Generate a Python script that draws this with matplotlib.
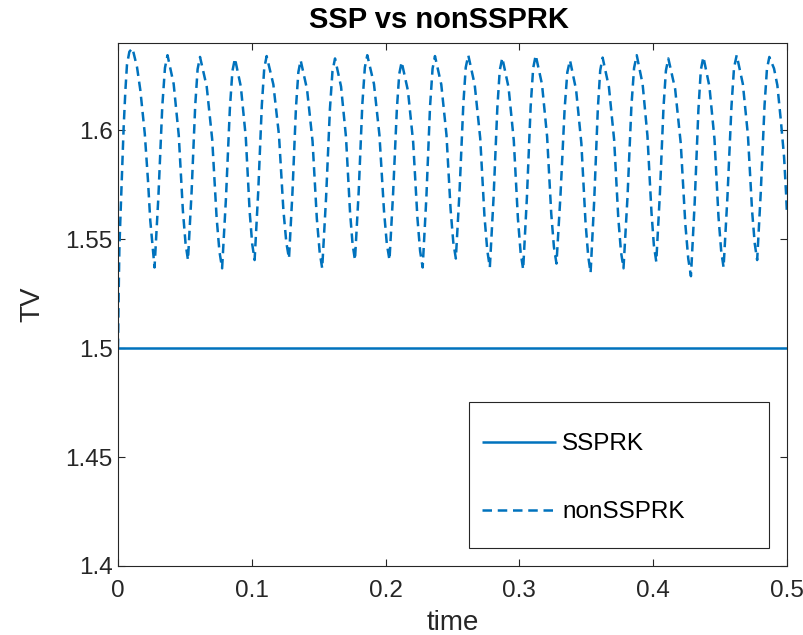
import matplotlib
matplotlib.use("Agg")
import matplotlib.pyplot as plt
from matplotlib.patches import Rectangle

plt.rcParams['font.family'] = ['Liberation Sans', 'DejaVu Sans']

# ---- data ----
t_ssp = [0.0, 0.5]
tv_ssp = [1.5, 1.5]

t_non = [
    0.0, 0.0005, 0.0010, 0.0017, 0.0030, 0.0042, 0.0055, 0.0067, 0.0085, 0.0108,
    0.0142, 0.0167, 0.0200, 0.0224, 0.0241, 0.0273,
    0.0302, 0.0331, 0.0351, 0.0370, 0.0416, 0.0454, 0.0485, 0.0505, 0.0523,
    0.0550, 0.0577, 0.0595, 0.0613, 0.0663, 0.0704, 0.0737, 0.0758, 0.0778,
    0.0807, 0.0836, 0.0855, 0.0874, 0.0918, 0.0955, 0.0984, 0.1003, 0.1021,
    0.1048, 0.1075, 0.1093, 0.1111, 0.1161, 0.1203, 0.1236, 0.1258, 0.1278,
    0.1304, 0.1330, 0.1348, 0.1365, 0.1413, 0.1454, 0.1486, 0.1507, 0.1526,
    0.1555, 0.1584, 0.1603, 0.1622, 0.1667, 0.1704, 0.1734, 0.1753, 0.1771,
    0.1799, 0.1826, 0.1845, 0.1863, 0.1913, 0.1954, 0.1988, 0.2009, 0.2029,
    0.2056, 0.2084, 0.2102, 0.2120, 0.2167, 0.2206, 0.2238, 0.2258, 0.2277,
    0.2305, 0.2332, 0.2351, 0.2369, 0.2416, 0.2455, 0.2486, 0.2506, 0.2525,
    0.2553, 0.2581, 0.2599, 0.2618, 0.2666, 0.2707, 0.2739, 0.2760, 0.2779,
    0.2807, 0.2835, 0.2853, 0.2872, 0.2919, 0.2958, 0.2989, 0.3009, 0.3028,
    0.3056, 0.3084, 0.3103, 0.3122, 0.3169, 0.3207, 0.3238, 0.3258, 0.3277,
    0.3307, 0.3338, 0.3358, 0.3378, 0.3424, 0.3463, 0.3494, 0.3514, 0.3532,
    0.3559, 0.3586, 0.3604, 0.3622, 0.3669, 0.3708, 0.3739, 0.3759, 0.3778,
    0.3808, 0.3837, 0.3857, 0.3877, 0.3921, 0.3957, 0.3987, 0.4005, 0.4023,
    0.4050, 0.4077, 0.4095, 0.4113, 0.4164, 0.4206, 0.4240, 0.4262, 0.4282,
    0.4310, 0.4338, 0.4356, 0.4375, 0.4420, 0.4458, 0.4488, 0.4508, 0.4526,
    0.4555, 0.4585, 0.4604, 0.4624, 0.4670, 0.4708, 0.4739, 0.4759, 0.4777,
    0.4804, 0.4832, 0.4850, 0.4868, 0.4903, 0.4928, 0.4955, 0.4978, 0.4993, 0.5000,
]
tv_non = [
    1.5000, 1.5250, 1.5450, 1.5580, 1.5800, 1.6010, 1.6180, 1.6300, 1.6360, 1.6376,
    1.6290, 1.6183, 1.5985, 1.5770, 1.5587, 1.5370,
    1.5696, 1.6110, 1.6286, 1.6344, 1.6212, 1.5977, 1.5630, 1.5479, 1.5404,
    1.5716, 1.6112, 1.6280, 1.6336, 1.6200, 1.5958, 1.5599, 1.5444, 1.5366,
    1.5689, 1.6098, 1.6271, 1.6329, 1.6200, 1.5968, 1.5626, 1.5478, 1.5404,
    1.5718, 1.6115, 1.6284, 1.6340, 1.6210, 1.5978, 1.5634, 1.5485, 1.5411,
    1.5716, 1.6103, 1.6266, 1.6321, 1.6187, 1.5949, 1.5595, 1.5442, 1.5366,
    1.5689, 1.6098, 1.6271, 1.6329, 1.6200, 1.5968, 1.5626, 1.5478, 1.5404,
    1.5719, 1.6118, 1.6288, 1.6344, 1.6212, 1.5977, 1.5630, 1.5479, 1.5404,
    1.5709, 1.6095, 1.6258, 1.6313, 1.6181, 1.5945, 1.5596, 1.5445, 1.5370,
    1.5695, 1.6107, 1.6282, 1.6340, 1.6210, 1.5978, 1.5634, 1.5485, 1.5411,
    1.5724, 1.6120, 1.6288, 1.6344, 1.6208, 1.5964, 1.5604, 1.5448, 1.5370,
    1.5692, 1.6101, 1.6274, 1.6332, 1.6196, 1.5953, 1.5594, 1.5439, 1.5361,
    1.5690, 1.6108, 1.6285, 1.6344, 1.6210, 1.5971, 1.5617, 1.5464, 1.5388,
    1.5701, 1.6097, 1.6265, 1.6321, 1.6184, 1.5940, 1.5579, 1.5423, 1.5345,
    1.5676, 1.6096, 1.6274, 1.6333, 1.6198, 1.5956, 1.5598, 1.5443, 1.5366,
    1.5694, 1.6109, 1.6285, 1.6344, 1.6211, 1.5974, 1.5624, 1.5472, 1.5396,
    1.5709, 1.6105, 1.6273, 1.6329, 1.6189, 1.5939, 1.5570, 1.5410, 1.5330,
    1.5667, 1.6095, 1.6276, 1.6336, 1.6201, 1.5959, 1.5602, 1.5447, 1.5370,
    1.5696, 1.6110, 1.6286, 1.6344, 1.6212, 1.5977, 1.5630, 1.5479, 1.5404,
    1.5716, 1.6112, 1.6280, 1.6336, 1.6283, 1.6206, 1.6038, 1.5878, 1.5710, 1.5610,
]

x_ticks = [0, 0.1, 0.2, 0.3, 0.4, 0.5]
x_ticklabels = ['0', '0.1', '0.2', '0.3', '0.4', '0.5']
y_ticks = [1.4, 1.45, 1.5, 1.55, 1.6]
y_ticklabels = ['1.4', '1.45', '1.5', '1.55', '1.6']

# ---- style ----
blue = '#0072BD'
axc = '#262626'
W, H = 804, 635
L, R, T, B = 118, 787, 43, 566

fig = plt.figure(figsize=(W/100, H/100), dpi=100)
ax = fig.add_axes([L/W, 1 - B/H, (R-L)/W, (B-T)/H])

ax.plot(t_ssp, tv_ssp, color=blue, lw=1.8, label='SSPRK', solid_capstyle='butt')
ax.plot(t_non, tv_non, color=blue, lw=1.8, linestyle=(0, (3.8, 2.3)), label='nonSSPRK',
        dash_capstyle='butt')

ax.set_xlim(0, 0.5)
ax.set_ylim(1.4, 1.64)
ax.set_xticks(x_ticks)
ax.set_xticklabels(x_ticklabels)
ax.set_yticks(y_ticks)
ax.set_yticklabels(y_ticklabels)

ax.tick_params(direction='in', length=5, width=0.8, colors=axc, labelsize=17.5,
               top=True, right=True, labelcolor=axc)
ax.tick_params(axis='x', pad=10)
ax.tick_params(axis='y', pad=4)
for s in ax.spines.values():
    s.set_color(axc)
    s.set_linewidth(0.8)

fig.text(439/W, 1 - 20/H, 'SSP vs nonSSPRK', fontsize=21, fontweight='bold',
         color='black', ha='center', va='center')
ax.set_xlabel('time', fontsize=20, color=axc, labelpad=6)
ax.set_ylabel('TV', fontsize=20, color=axc, labelpad=14)

# legend box (MATLAB-style, wide with generous padding)
bx0, bx1, by0, by1 = 469, 769, 402, 548
ax.add_patch(Rectangle(((bx0-L)/(R-L), (B-by1)/(B-T)), (bx1-bx0)/(R-L), (by1-by0)/(B-T),
                       transform=ax.transAxes, facecolor='white', edgecolor=axc,
                       lw=0.8, zorder=4))
leg = ax.legend(loc='upper left',
                bbox_to_anchor=((482-L)/(R-L), (B-433)/(B-T)),
                fontsize=17.5, handlelength=3.05, handletextpad=0.25,
                borderpad=0, labelspacing=1.9, borderaxespad=0, frameon=False)
leg.set_zorder(5)
for txt in leg.get_texts():
    txt.set_color('black')

fig.savefig('out.png', dpi=100)
